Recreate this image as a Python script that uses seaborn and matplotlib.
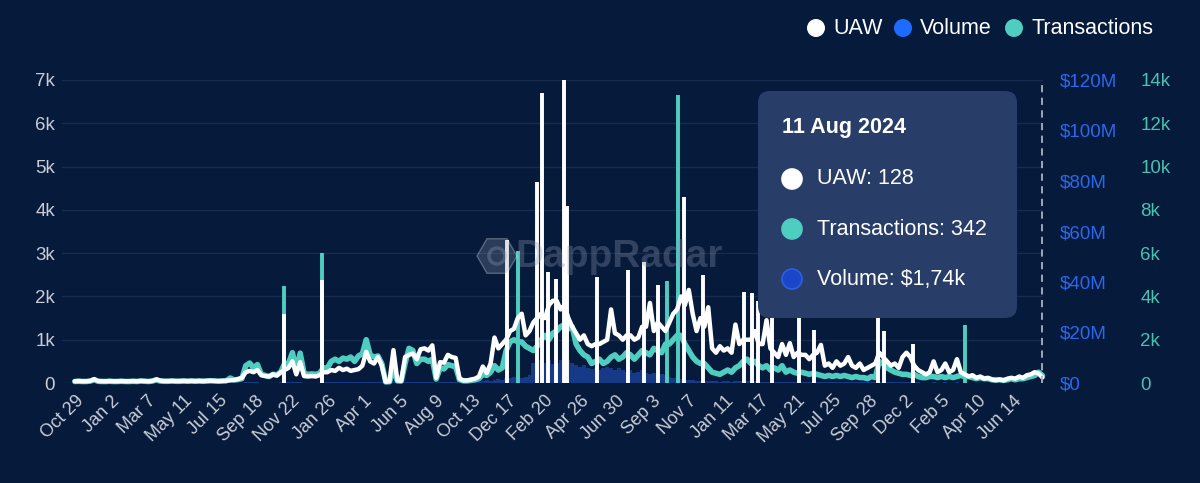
import matplotlib
matplotlib.use("Agg")
import matplotlib.pyplot as plt
import matplotlib.transforms as mtransforms
from matplotlib.patches import FancyBboxPatch, Circle, RegularPolygon
import numpy as np
import pandas as pd
import seaborn as sns

# ---------------- data (weekly points ending 11 Aug 2024) ----------------
end_date = "2024-08-11"

uaw = [
    40, 45, 40, 40, 50, 90, 45, 40, 40, 45,
    40, 40, 45, 40, 40, 45, 40, 50, 45, 40,
    50, 85, 55, 45, 45, 50, 45, 45, 50, 45,
    50, 45, 50, 45, 50, 55, 50, 45, 50, 55,
    60, 70, 90, 120, 250, 280, 250, 300, 180, 160,
    150, 200, 170, 250, 300, 350, 500, 200, 480, 160,
    150, 160, 150, 180, 250, 250, 300, 280, 350, 300,
    330, 280, 300, 320, 400, 720, 500, 450, 600, 400,
    30, 40, 760, 60, 50, 600, 650, 680, 550, 780,
    800, 750, 870, 120, 480, 470, 650, 600, 580, 100,
    60, 60, 80, 100, 150, 380, 230, 450, 1050, 800,
    900, 1000, 1200, 1250, 1500, 1600, 1100, 1200, 1400, 1500,
    1600, 1500, 1800, 1900, 1900, 1700, 1800, 1500, 1300, 1150,
    1000, 1100, 900, 850, 900, 900, 950, 1000, 1700, 1150,
    1100, 1000, 1100, 1100, 1000, 1050, 1300, 1300, 1850, 1200,
    1400, 1300, 1200, 1400, 1600, 1700, 2000, 1800, 2150, 1600,
    1200, 1500, 1300, 1750, 800, 700, 850, 750, 800, 700,
    1350, 900, 1000, 1000, 1000, 1200, 900, 900, 1450, 800,
    700, 600, 900, 650, 920, 600, 700, 650, 650, 550,
    650, 700, 880, 400, 450, 350, 500, 400, 450, 600,
    400, 350, 450, 300, 350, 400, 450, 700, 600, 500,
    400, 450, 350, 600, 700, 600, 400, 300, 250, 200,
    250, 500, 250, 300, 450, 250, 300, 550, 250, 200,
    150, 180, 120, 150, 100, 120, 80, 60, 80, 60,
    100, 120, 100, 150, 120, 180, 200, 250, 220, 128,
]

transactions = [
    70, 80, 70, 70, 90, 150, 80, 70, 70, 80,
    70, 70, 80, 70, 70, 80, 70, 90, 80, 70,
    90, 140, 90, 80, 80, 90, 80, 80, 90, 80,
    90, 80, 90, 80, 90, 100, 90, 80, 90, 100,
    230, 140, 160, 200, 800, 920, 700, 850, 400, 350,
    300, 400, 380, 500, 900, 900, 1400, 600, 1380, 450,
    400, 420, 400, 450, 700, 700, 1000, 1100, 1000, 1150,
    1100, 1200, 1000, 1250, 1350, 2000, 1300, 1200, 1250, 900,
    50, 60, 700, 100, 90, 900, 1600, 1500, 900, 1100,
    1100, 1000, 1100, 180, 700, 650, 850, 800, 750, 150,
    100, 100, 120, 150, 200, 400, 350, 500, 800, 600,
    700, 1500, 1900, 2000, 1900, 1900, 1700, 1600, 1500, 1700,
    2000, 2200, 2000, 2300, 2400, 2600, 2700, 2500, 2600, 1800,
    1500, 1300, 1200, 900, 1000, 1100, 900, 1000, 1200, 1300,
    1100, 1200, 1400, 1300, 1100, 1300, 1500, 1400, 1300, 1600,
    1500, 1400, 1800, 1800, 2000, 2200, 2200, 1800, 1500, 1200,
    1000, 900, 900, 700, 500, 450, 400, 500, 600, 500,
    700, 800, 1000, 1100, 900, 1000, 800, 700, 800, 600,
    700, 600, 800, 500, 600, 500, 450, 500, 450, 400,
    450, 400, 350, 300, 350, 300, 350, 300, 350, 300,
    250, 300, 250, 250, 200, 300, 250, 1000, 900, 700,
    600, 500, 450, 400, 400, 350, 400, 300, 250, 250,
    300, 300, 250, 300, 250, 300, 250, 300, 350, 300,
    300, 250, 200, 250, 200, 200, 150, 150, 150, 120,
    150, 200, 150, 200, 200, 250, 300, 350, 500, 342,
]

volume_musd = [
    0.1, 0.1, 0.1, 0.1, 0.1, 0.1, 0.1, 0.1, 0.1, 0.1,
    0.1, 0.1, 0.1, 0.1, 0.1, 0.1, 0.1, 0.1, 0.1, 0.1,
    0.1, 0.1, 0.1, 0.1, 0.1, 0.1, 0.1, 0.1, 0.1, 0.1,
    0.1, 0.1, 0.1, 0.1, 0.1, 0.1, 0.1, 0.1, 0.1, 0.1,
    0.1, 0.1, 0.1, 0.1, 0.2, 0.2, 0.2, 0.2, 0.1, 0.1,
    0.1, 0.1, 0.1, 0.2, 0.3, 0.2, 0.2, 0.2, 0.2, 0.1,
    0.1, 0.1, 0.1, 0.1, 0.3, 0.2, 0.2, 0.2, 0.2, 0.2,
    0.2, 0.2, 0.2, 0.2, 0.2, 0.3, 0.2, 0.2, 0.2, 0.2,
    0.1, 0.1, 0.2, 0.1, 0.1, 0.2, 0.2, 0.2, 0.2, 0.2,
    0.2, 0.2, 0.2, 0.1, 0.2, 0.2, 0.2, 0.2, 0.2, 0.1,
    0.1, 0.1, 0.1, 0.2, 0.3, 0.8, 1.0, 0.9, 1.2, 1.5,
    1.3, 2.0, 1.8, 2.2, 2.5, 2.0, 2.4, 3.0, 8.0, 10.5,
    9.0, 8.0, 9.0, 7.5, 8.0, 9.0, 9.5, 9.0, 8.0, 7.0,
    6.5, 7.0, 6.0, 5.5, 6.0, 5.0, 6.0, 6.5, 6.0, 5.0,
    6.0, 5.0, 4.5, 5.0, 4.0, 4.5, 5.0, 4.0, 3.5, 4.0,
    3.0, 3.5, 3.0, 2.5, 2.0, 2.5, 1.5, 1.2, 1.0, 1.0,
    0.8, 0.8, 0.9, 0.7, 0.6, 0.6, 0.5, 0.6, 0.6, 0.5,
    0.6, 0.6, 0.7, 0.6, 0.6, 0.6, 0.5, 0.5, 0.5, 0.5,
    0.5, 0.4, 0.5, 0.4, 0.4, 0.4, 0.4, 0.4, 0.4, 0.4,
    0.4, 0.4, 0.4, 0.3, 0.3, 0.3, 0.3, 0.3, 0.3, 0.3,
    0.3, 0.3, 0.3, 0.2, 0.2, 0.2, 0.2, 0.3, 0.3, 0.2,
    0.2, 0.2, 0.2, 0.2, 0.2, 0.2, 0.2, 0.2, 0.1, 0.1,
    0.1, 0.2, 0.1, 0.1, 0.2, 0.1, 0.1, 0.2, 0.1, 0.1,
    0.1, 0.1, 0.1, 0.1, 0.1, 0.1, 0.1, 0.1, 0.1, 0.1,
    0.1, 0.1, 0.1, 0.1, 0.1, 0.1, 0.1, 0.1, 0.1, 0.1,
]

# single-day spikes
uaw_spike_dates = [
    "2020-11-14", "2021-01-22", "2021-12-20", "2022-02-13", "2022-02-22",
    "2022-03-04", "2022-03-18", "2022-04-02", "2022-04-08", "2022-05-31",
    "2022-07-26", "2022-08-25", "2022-09-18", "2022-11-05", "2022-12-08",
    "2023-02-21", "2023-03-06", "2023-03-17", "2023-04-11", "2023-05-31",
    "2023-06-27", "2023-10-20", "2023-10-31", "2023-12-21",
]
uaw_spike_values = [
    1600, 2380, 3300, 4650, 6700,
    2560, 2400, 7000, 4100, 2450,
    2600, 2800, 2260, 4300, 2500,
    2100, 2080, 1900, 1500, 1500,
    1220, 1500, 1200, 900,
]
tx_spike_dates = ["2020-11-14", "2021-01-22", "2022-01-09", "2022-10-04",
                  "2022-10-24", "2024-03-24"]
tx_spike_values = [4480, 6000, 6100, 4700, 13300, 2700]

tick_start = "2019-10-29"
tick_labels = ["Oct 29", "Jan 2", "Mar 7", "May 11", "Jul 15", "Sep 18", "Nov 22",
               "Jan 26", "Apr 1", "Jun 5", "Aug 9", "Oct 13", "Dec 17", "Feb 20",
               "Apr 26", "Jun 30", "Sep 3", "Nov 7", "Jan 11", "Mar 17", "May 21",
               "Jul 25", "Sep 28", "Dec 2", "Feb 5", "Apr 10", "Jun 14"]
uaw_ticks = [0, 1000, 2000, 3000, 4000, 5000, 6000, 7000]
uaw_tick_labels = ["0", "1k", "2k", "3k", "4k", "5k", "6k", "7k"]
vol_ticks = [0, 20e6, 40e6, 60e6, 80e6, 100e6, 120e6]
vol_tick_labels = ["$0", "$20M", "$40M", "$60M", "$80M", "$100M", "$120M"]
tx_ticks = [0, 2000, 4000, 6000, 8000, 10000, 12000, 14000]
tx_tick_labels = ["0", "2k", "4k", "6k", "8k", "10k", "12k", "14k"]

tooltip_date = "11 Aug 2024"
tooltip_rows = ["UAW: 128", "Transactions: 342", "Volume: $1,74k"]
legend_names = ["UAW", "Volume", "Transactions"]

# ---------------- style ----------------
sns.set_theme(style="dark")
plt.rcParams["font.family"] = ["Liberation Sans", "DejaVu Sans"]

BG = "#061a3b"
GRID = "#172b4e"
TEAL = "#4ecdc0"
BLUE = "#1e6cff"
VOLC = "#163a88"
LABEL = "#c8cdd6"

W, H = 1200, 483
fig = plt.figure(figsize=(12, 4.83), dpi=100, facecolor=BG)
ax = fig.add_axes([62 / W, 100 / H, (1043 - 62) / W, 303 / H])
ax.set_facecolor(BG)
ax_vol = ax.twinx()
ax_tx = ax.twinx()
ax_u = ax.twinx()
for a in (ax, ax_vol, ax_tx, ax_u):
    for s in a.spines.values():
        s.set_visible(False)
    a.grid(False)

dates = pd.date_range(end=end_date, periods=len(uaw), freq="7D")
df = pd.DataFrame({"date": dates, "uaw": uaw, "tx": transactions,
                   "vol": np.array(volume_musd) * 1e6})

# volume (bars-like)
ax_vol.fill_between(df["date"], 0, df["vol"], step="mid", color=VOLC, lw=0)

# transactions
sns.lineplot(data=df, x="date", y="tx", ax=ax_tx, color=TEAL, lw=4.0,
             clip_on=False, solid_joinstyle="round")
ax_tx.vlines(pd.to_datetime(tx_spike_dates), 0, tx_spike_values, color=TEAL, lw=2.8)

# UAW
sns.lineplot(data=df, x="date", y="uaw", ax=ax_u, color="white", lw=3.2,
             clip_on=False, solid_joinstyle="round")
ax_u.vlines(pd.to_datetime(uaw_spike_dates), 0, uaw_spike_values, color="white", lw=2.8)

# hover line
ax_u.axvline(pd.Timestamp(end_date), color="#a9b2c2", lw=1.3, ls=(0, (4, 3)))

# axes limits / ticks
ax.set_xlim(pd.Timestamp("2019-10-11"), pd.Timestamp(end_date) + pd.Timedelta(days=1))
ax.set_ylim(0, 7000)
ax_u.set_ylim(0, 7000)
ax_tx.set_ylim(0, 14000)
ax_vol.set_ylim(0, 120e6)

ax.set_yticks(uaw_ticks)
ax.set_yticklabels(uaw_tick_labels)
ax.yaxis.grid(True, color=GRID, lw=1)
ax.set_axisbelow(True)
ax.tick_params(axis="y", length=0, pad=5, labelsize=13.5, labelcolor=LABEL)

tick_dates = pd.date_range(tick_start, periods=len(tick_labels), freq="65D")
ax.set_xticks(tick_dates)
ax.set_xticklabels(tick_labels, rotation=45, ha="right", va="center",
                   rotation_mode="anchor")
ax.tick_params(axis="x", length=0, pad=11, labelsize=13, labelcolor=LABEL)
shift = mtransforms.ScaledTranslation(9 / 100, 0, fig.dpi_scale_trans)
for lbl in ax.get_xticklabels():
    lbl.set_transform(lbl.get_transform() + shift)

ax_vol.set_yticks(vol_ticks)
ax_vol.set_yticklabels(vol_tick_labels)
ax_vol.tick_params(axis="y", length=0, pad=12, labelsize=13.5, labelcolor="#2b68ee")

ax_tx.set_yticks(tx_ticks)
ax_tx.set_yticklabels(tx_tick_labels)
ax_tx.tick_params(axis="y", length=0, pad=70, labelsize=13.5, labelcolor="#49c2b2")

ax_u.set_yticks([])
for a in (ax, ax_vol, ax_tx, ax_u):
    a.set_xlabel("")
    a.set_ylabel("")

# ---------------- figure-level decorations (pixel coords) ----------------
def fx(px):
    return px / W

def fy(py):
    return 1 - py / H

inch = fig.dpi_scale_trans

# watermark
fig.patches.append(RegularPolygon((497 / 100, (H - 256) / 100), numVertices=6,
                                  radius=0.2, orientation=np.pi / 6,
                                  facecolor="#8a97ad", alpha=0.28, transform=inch,
                                  figure=fig))
fig.patches.append(Circle((497 / 100, (H - 256) / 100), 0.08, facecolor="none",
                          edgecolor="#8a97ad", alpha=0.35, lw=2.5,
                          transform=inch, figure=fig))
fig.text(fx(515), fy(257), "DappRadar", fontsize=28, fontweight="bold",
         color="#8a97ad", alpha=0.33, ha="left", va="center")

# tooltip
fig.patches.append(FancyBboxPatch((758 / 100, (H - 318) / 100), 2.59, 2.27,
                                  boxstyle="round,pad=0,rounding_size=0.12",
                                  facecolor="#283e69", edgecolor="none",
                                  transform=inch, figure=fig))
fig.text(fx(782), fy(128), tooltip_date, fontsize=15.5, fontweight="bold",
         color="white", ha="left", va="center")
tt_colors = ["white", TEAL, "#1a47c8"]
tt_edges = ["white", TEAL, "#2d5fe6"]
for i, (row, c, ec) in enumerate(zip(tooltip_rows, tt_colors, tt_edges)):
    yy = 179 + 50 * i
    fig.patches.append(Circle((792 / 100, (H - yy) / 100), 0.1, facecolor=c,
                              edgecolor=ec, lw=1.2, transform=inch, figure=fig))
    fig.text(fx(817), fy(yy), row, fontsize=15.5, color="white",
             ha="left", va="center")

# legend
leg_colors = ["white", BLUE, TEAL]
leg_cx = [816, 903, 1014]
for name, c, cx in zip(legend_names, leg_colors, leg_cx):
    fig.patches.append(Circle((cx / 100, (H - 28) / 100), 0.09, facecolor=c,
                              edgecolor="none", transform=inch, figure=fig))
    fig.text(fx(cx + 17), fy(29), name, fontsize=15.5, color="white",
             ha="left", va="center")

fig.savefig("out.png", dpi=100, facecolor=BG)
